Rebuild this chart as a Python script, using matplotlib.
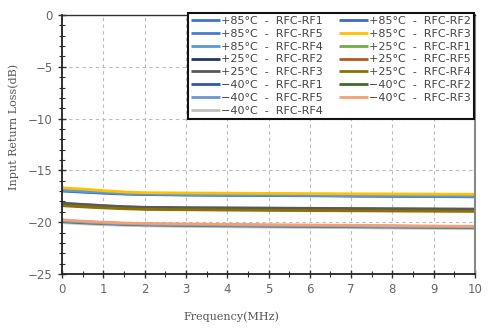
import matplotlib
matplotlib.use("Agg")
import matplotlib.pyplot as plt
from matplotlib.ticker import MultipleLocator

freq = [0, 0.05, 0.5, 1, 1.5, 2, 3, 4, 5, 6, 7, 8, 9, 10]

p85_rf1 = [-16.9, -16.95, -17.05, -17.15, -17.25, -17.3, -17.35, -17.38, -17.4, -17.42, -17.45, -17.48, -17.5, -17.52]
p85_rf2 = [-16.95, -17.0, -17.1, -17.2, -17.28, -17.33, -17.38, -17.4, -17.43, -17.45, -17.48, -17.5, -17.53, -17.55]
p85_rf3 = [-16.6, -16.7, -16.8, -16.95, -17.08, -17.15, -17.18, -17.2, -17.22, -17.24, -17.26, -17.27, -17.29, -17.3]
p85_rf4 = [-16.85, -16.92, -17.02, -17.12, -17.22, -17.28, -17.33, -17.36, -17.39, -17.41, -17.44, -17.46, -17.49, -17.5]
p85_rf5 = [-16.75, -16.82, -16.92, -17.05, -17.16, -17.22, -17.27, -17.3, -17.32, -17.35, -17.37, -17.4, -17.42, -17.43]

p25_rf1 = [-18.15, -18.2, -18.3, -18.42, -18.52, -18.58, -18.62, -18.64, -18.66, -18.68, -18.7, -18.72, -18.74, -18.75]
p25_rf2 = [-18.3, -18.35, -18.45, -18.56, -18.64, -18.7, -18.74, -18.77, -18.79, -18.81, -18.83, -18.85, -18.87, -18.88]
p25_rf3 = [-18.1, -18.18, -18.28, -18.4, -18.5, -18.56, -18.6, -18.62, -18.64, -18.66, -18.68, -18.7, -18.72, -18.74]
p25_rf4 = [-18.35, -18.42, -18.52, -18.62, -18.7, -18.76, -18.8, -18.83, -18.86, -18.88, -18.9, -18.92, -18.94, -18.96]
p25_rf5 = [-18.2, -18.27, -18.38, -18.48, -18.57, -18.63, -18.67, -18.7, -18.72, -18.74, -18.76, -18.78, -18.8, -18.82]

m40_rf1 = [-19.8, -19.85, -19.95, -20.05, -20.12, -20.18, -20.23, -20.27, -20.3, -20.33, -20.36, -20.39, -20.42, -20.45]
m40_rf2 = [-19.9, -19.95, -20.05, -20.13, -20.2, -20.25, -20.3, -20.34, -20.37, -20.4, -20.43, -20.46, -20.49, -20.52]
m40_rf3 = [-19.7, -19.78, -19.9, -20.0, -20.08, -20.12, -20.17, -20.21, -20.24, -20.27, -20.3, -20.33, -20.37, -20.4]
m40_rf4 = [-20.0, -20.05, -20.15, -20.24, -20.3, -20.35, -20.4, -20.44, -20.47, -20.5, -20.53, -20.56, -20.59, -20.62]
m40_rf5 = [-19.85, -19.9, -20.0, -20.1, -20.16, -20.22, -20.27, -20.31, -20.34, -20.37, -20.4, -20.43, -20.46, -20.49]

xticks = [0, 1, 2, 3, 4, 5, 6, 7, 8, 9, 10]
yticks = [0, -5, -10, -15, -20, -25]

# (label, data, color) in legend order (column-major for 2 columns)
series = [
    ("+85°C  -  RFC-RF1", p85_rf1, "#4472C4"),
    ("+85°C  -  RFC-RF5", p85_rf5, "#4A7BD0"),
    ("+85°C  -  RFC-RF4", p85_rf4, "#5B9BD5"),
    ("+25°C  -  RFC-RF2", p25_rf2, "#203864"),
    ("+25°C  -  RFC-RF3", p25_rf3, "#595959"),
    ("−40°C  -  RFC-RF1", m40_rf1, "#2E5C9E"),
    ("−40°C  -  RFC-RF5", m40_rf5, "#6E95D4"),
    ("−40°C  -  RFC-RF4", m40_rf4, "#BFBFBF"),
    ("+85°C  -  RFC-RF2", p85_rf2, "#3C6AC0"),
    ("+85°C  -  RFC-RF3", p85_rf3, "#FFC000"),
    ("+25°C  -  RFC-RF1", p25_rf1, "#70AD47"),
    ("+25°C  -  RFC-RF5", p25_rf5, "#B4581C"),
    ("+25°C  -  RFC-RF4", p25_rf4, "#8C7000"),
    ("−40°C  -  RFC-RF2", m40_rf2, "#43682B"),
    ("−40°C  -  RFC-RF3", m40_rf3, "#F4A070"),
]

draw_order = [7, 5, 13, 6, 14, 3, 10, 11, 4, 12, 0, 8, 1, 2, 9]

fig = plt.figure(figsize=(4.88, 3.28), dpi=100)
ax = fig.add_axes([62 / 488, 1 - 274 / 328, 413 / 488, 259 / 328])

lines = {}
for i in draw_order:
    lab, data, col = series[i]
    ln, = ax.plot(freq, data, color=col, lw=2.0, label=lab, solid_capstyle="butt")
    lines[i] = ln

ax.set_xlim(0, 10)
ax.set_ylim(-25, 0)
ax.set_xticks(xticks)
ax.set_yticks(yticks)
ax.xaxis.set_minor_locator(MultipleLocator(0.5))
ax.yaxis.set_minor_locator(MultipleLocator(1))
ax.tick_params(which="major", direction="inout", length=6, width=1, colors="#333333",
               labelcolor="#666666", labelsize=8.5)
ax.tick_params(which="minor", direction="inout", length=4, width=0.8, colors="#333333")
ax.grid(True, which="major", linestyle=(0, (3, 3)), color="#BBBBBB", lw=0.8)

for s in ["left", "bottom"]:
    ax.spines[s].set_color("#222222")
    ax.spines[s].set_linewidth(1.3)
ax.spines["top"].set_color("#333333")
ax.spines["top"].set_linewidth(1.0)
ax.spines["right"].set_color("#888888")
ax.spines["right"].set_linewidth(1.5)

ax.set_xlabel("Frequency(MHz)", family="DejaVu Serif", fontsize=8, color="#555555")
ax.xaxis.set_label_coords(0.41, -0.145)
ax.set_ylabel("Input Return Loss(dB)", family="DejaVu Serif", fontsize=8, color="#555555")
ax.yaxis.set_label_coords(-0.105, 0.567)

handles = [lines[i] for i in range(len(series))]
labels = [series[i][0] for i in range(len(series))]
leg = ax.legend(handles, labels, ncol=2, loc="upper right",
                bbox_to_anchor=(474 / 488, 1 - 13 / 328), bbox_transform=fig.transFigure,
                fontsize=8, frameon=True, fancybox=False, framealpha=1,
                edgecolor="#111111", handlelength=2.6, handletextpad=0.15,
                labelspacing=0.26, columnspacing=1.4, borderpad=0.25, borderaxespad=0)
leg.get_frame().set_linewidth(1.5)
for t in leg.get_texts():
    t.set_color("#444444")

fig.savefig("out.png", dpi=100)
